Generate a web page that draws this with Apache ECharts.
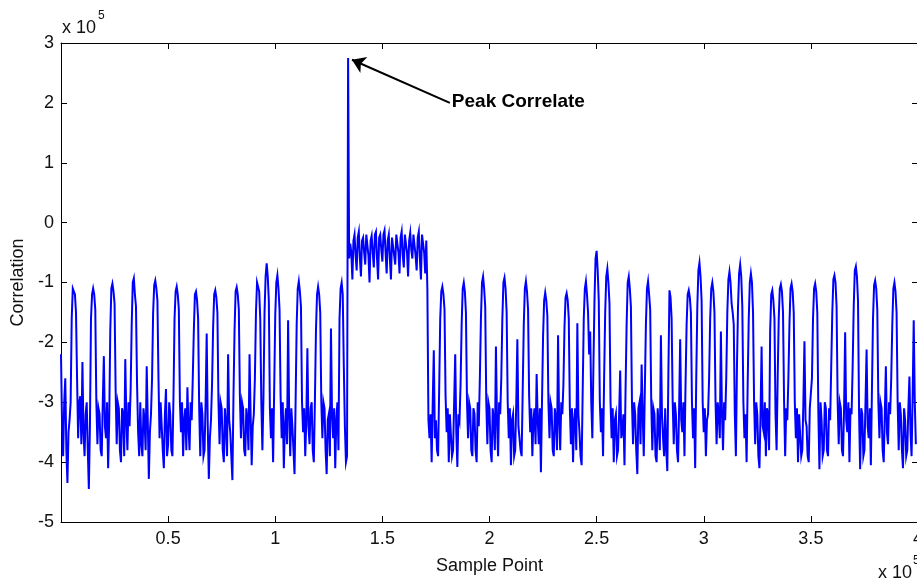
<!DOCTYPE html>
<html>
<head>
<meta charset="utf-8">
<script src="https://cdn.jsdelivr.net/npm/echarts@6/dist/echarts.min.js"></script>
<style>
html, body { margin: 0; padding: 0; background: #fff; }
#corrChart { width: 917px; height: 579px; }
</style>
</head>
<body>
<div id="corrChart"></div>
<script>
// sample spacing of the stored values, in units of 10^5 samples
const sampleStep = 0.01
// correlation values (x 10^5) at each step
const correlation = [
  -2.2, -3.9, -2.6, -4.35, -3.3, -1.6, -1.07, -1.5, -3.6, -2.9,
  -2.33, -3.9, -3.0, -4.45, -1.6, -1.1, -1.45, -3.7, -3.2, -3.9,
  -2.23, -3.6, -4.1, -1.8, -1.02, -1.35, -3.7, -3.1, -4.0, -3.2,
  -2.28, -3.8, -3.4, -1.7, -0.93, -1.4, -3.5, -3.0, -3.9, -3.3,
  -2.4, -4.28, -3.2, -1.5, -0.97, -1.3, -3.6, -3.0, -4.1, -2.78,
  -3.7, -3.2, -3.9, -1.6, -1.07, -1.45, -3.5, -3.9, -3.1, -2.75,
  -3.8, -3.3, -1.8, -1.15, -1.6, -3.9, -3.2, -3.8, -1.85, -4.28,
  -3.3, -1.75, -1.13, -1.5, -3.7, -3.1, -4.0, -3.4, -2.2, -3.5,
  -4.3, -1.8, -1.08, -1.45, -3.6, -3.1, -3.9, -3.3, -2.2, -4.05,
  -3.2, -1.5, -0.98, -1.6, -3.8, -1.5, -0.68, -1.3, -3.6, -4.0,
  -1.55, -0.88, -1.45, -3.6, -4.1, -3.1, -1.63, -3.9, -3.4, -4.2,
  -1.7, -0.98, -1.4, -3.5, -3.9, -2.1, -3.7, -3.0, -4.0, -1.8,
  -1.07, -1.5, -3.6, -3.1, -4.2, -3.2, -1.77, -3.6, -4.1, -3.0,
  -1.6, -1.0, -2.4, -4.0, 2.75,
  // raised block after the peak
  -0.35, -0.95, -0.2, -0.8, -0.15, -0.9, -0.25, -0.7, -0.18, -1.0,
  -0.22, -0.75, -0.15, -0.95, -0.2, -0.65, -0.13, -0.85, -0.2, -0.95,
  -0.25, -0.7, -0.18, -0.85, -0.15, -0.75, -0.22, -0.9, -0.17, -0.6,
  -0.2, -0.8, -0.15, -0.95, -0.2, -0.85, -1.1,
  // back to the noise floor
  -3.6, -4.0, -2.13, -3.3, -3.9, -1.6, -1.07, -1.45, -3.5, -4.0,
  -3.2, -3.8, -2.2, -4.08, -3.3, -1.7, -1.0, -1.5, -3.6, -3.1,
  -3.9, -3.2, -4.0, -3.4, -1.6, -0.9, -1.4, -3.7, -3.1, -4.0,
  -3.3, -2.07, -3.9, -3.2, -1.6, -0.92, -1.5, -3.6, -4.05, -3.2,
  -3.8, -1.95, -3.4, -3.9, -1.7, -0.98, -1.45, -3.5, -3.9, -3.1,
  -2.53, -3.7, -4.17, -1.9, -1.17, -1.55, -3.6, -3.1, -3.9, -3.3,
  -1.88, -3.8, -3.2, -1.75, -1.18, -1.6, -3.7, -4.0, -3.1, -1.68,
  -3.5, -4.05, -1.6, -0.98, -1.5, -1.82, -3.6, -1.3, -0.47, -1.3,
  -3.5, -3.9, -1.5, -0.77, -1.35, -3.6, -4.0, -3.2, -3.8, -2.47,
  -3.5, -4.05, -1.7, -0.9, -1.4, -3.7, -3.2, -4.2, -3.0, -2.37,
  -3.9, -1.7, -0.98, -1.45, -3.8, -3.2, -4.0, -3.4, -1.88, -3.6,
  -3.1, -4.15, -1.13, -1.6, -3.7, -3.2, -4.0, -1.95, -3.5, -3.9,
  -1.7, -1.13, -1.5, -3.6, -4.1, -1.4, -0.67, -1.3, -3.5, -3.9,
  -3.2, -1.6, -1.0, -1.5, -3.7, -3.2, -1.82, -3.8, -3.3, -1.5,
  -0.82, -1.35, -1.7, -3.9, -1.4, -0.7, -1.4, -3.6, -4.0, -1.6,
  -0.85, -1.5, -3.7, -3.2, -4.1, -2.07, -3.5, -3.9, -3.2, -1.8,
  -1.13, -1.6, -3.8, -1.6, -1.03, -1.5, -3.9, -3.3, -1.7, -1.02,
  -1.5, -3.6, -4.0, -3.2, -3.8, -1.98, -3.4, -4.0, -3.1, -1.6,
  -1.02, -1.5, -4.12, -3.3, -3.8, -3.1, -3.9, -3.3, -1.5, -0.88,
  -1.4, -3.7, -3.1, -3.9, -1.83, -3.5, -4.0, -3.2, -1.4, -0.73,
  -1.3, -4.12, -3.2, -3.8, -2.12, -3.6, -4.05, -1.6, -0.97, -1.45,
  -3.6, -3.1, -4.0, -2.4, -3.7, -3.2, -1.7, -1.0, -1.5, -3.8,
  -3.2, -4.1, -3.3, -3.8, -2.57, -3.9, -1.63, -3.7
]
// values half a step later (the fast wiggle that fills the band)
const correlationMid = [
  -3.4, -3.0, -3.8, -3.5, -3.0, -1.1, -1.2, -2.6, -3.0, -3.7,
  -3.5, -3.2, -3.8, -3.4, -1.2, -1.2, -3.0, -3.1, -3.8, -3.0,
  -3.4, -3.0, -3.3, -1.1, -1.15, -2.8, -3.0, -3.8, -3.1, -3.9,
  -3.3, -3.0, -2.8, -1.0, -1.2, -2.7, -3.9, -3.7, -3.1, -3.8,
  -3.3, -3.5, -2.6, -1.05, -1.1, -2.6, -3.0, -3.8, -3.2, -3.9,
  -3.0, -3.8, -2.9, -1.15, -1.2, -3.0, -3.0, -3.3, -3.8, -3.4,
  -3.0, -2.6, -1.2, -1.3, -3.1, -3.0, -3.9, -3.0, -3.4, -3.6,
  -2.7, -1.2, -1.25, -3.0, -3.0, -3.8, -3.1, -3.9, -3.3, -3.9,
  -2.9, -1.15, -1.2, -2.9, -3.0, -3.8, -3.1, -3.8, -3.2, -3.4,
  -2.6, -1.0, -1.15, -3.0, -2.9, -0.9, -0.9, -3.1, -3.1, -2.8,
  -1.0, -1.1, -2.9, -3.0, -3.4, -3.7, -3.2, -3.1, -3.8, -3.0,
  -1.1, -1.15, -3.0, -3.1, -3.3, -3.4, -3.1, -3.8, -3.0, -1.2,
  -1.2, -3.0, -3.0, -3.8, -3.3, -3.9, -3.2, -3.1, -3.3, -3.8,
  -1.1, -1.2, -3.4, -3.9, -0.6, -0.5, -0.3, -0.55, -0.25, -0.6,
  -0.3, -0.5, -0.2, -0.55, -0.3, -0.5, -0.2, -0.6, -0.25, -0.45,
  -0.2, -0.5, -0.3, -0.6, -0.25, -0.55, -0.2, -0.5, -0.25, -0.55,
  -0.2, -0.5, -0.3, -0.45, -0.2, -0.55, -0.25, -0.6, -0.2, -0.5,
  -0.3, -3.3, -3.2, -3.0, -3.6, -3.8, -2.8, -1.15, -1.2, -2.9,
  -3.1, -3.2, -3.9, -3.0, -3.5, -3.2, -2.7, -1.1, -1.15, -3.0,
  -3.0, -3.8, -3.1, -3.8, -3.0, -2.6, -1.0, -1.1, -3.0, -3.0,
  -3.8, -3.1, -3.8, -3.3, -3.0, -2.6, -1.0, -1.1, -3.0, -3.1,
  -3.3, -3.9, -3.0, -3.4, -3.8, -2.8, -1.1, -1.15, -2.9, -3.1,
  -3.3, -3.7, -3.3, -3.1, -3.0, -1.3, -1.3, -3.0, -3.0, -3.8,
  -3.1, -3.8, -3.3, -3.0, -2.7, -1.25, -1.3, -3.1, -3.1, -3.3,
  -3.8, -3.2, -3.9, -2.8, -1.1, -1.2, -2.2, -3.0, -2.4, -0.6,
  -0.8, -3.0, -3.1, -2.6, -0.9, -1.0, -3.0, -3.1, -3.3, -3.9,
  -3.2, -3.6, -3.2, -2.8, -1.0, -1.1, -3.0, -3.0, -3.8, -3.1,
  -3.7, -3.2, -2.8, -1.1, -1.2, -3.0, -3.1, -3.9, -3.1, -3.8,
  -3.2, -3.9, -3.8, -2.5, -1.25, -3.0, -3.0, -3.8, -3.1, -3.3,
  -3.0, -2.7, -1.2, -1.25, -3.0, -3.1, -2.6, -0.8, -0.9, -3.0,
  -3.1, -3.3, -2.6, -1.1, -1.15, -3.0, -3.0, -3.6, -3.2, -3.0,
  -2.6, -0.95, -1.0, -1.5, -3.2, -2.4, -0.85, -0.9, -3.0, -3.2,
  -2.7, -1.0, -1.0, -3.0, -3.0, -3.9, -3.2, -3.4, -3.0, -3.1,
  -3.8, -1.2, -1.3, -3.2, -2.6, -1.1, -1.15, -3.0, -3.1, -2.6,
  -1.1, -1.15, -3.0, -3.1, -3.2, -3.9, -3.0, -3.3, -3.9, -3.1,
  -2.6, -1.1, -1.15, -3.2, -3.0, -3.9, -3.0, -3.8, -3.1, -2.4,
  -0.95, -1.0, -3.0, -3.0, -3.8, -3.1, -3.3, -3.0, -3.1, -2.4,
  -0.8, -0.9, -3.2, -3.1, -3.9, -3.0, -3.4, -3.1, -2.8, -1.05,
  -1.1, -3.0, -3.0, -3.8, -3.2, -3.5, -3.0, -2.6, -1.1, -1.15,
  -3.0, -3.0, -3.8, -3.1, -3.9, -3.1, -3.5, -2.9, -3.0
]
const xTicks = [0.5, 1, 1.5, 2, 2.5, 3, 3.5, 4]
const yTicks = [-5, -4, -3, -2, -1, 0, 1, 2, 3]
const peakText = 'Peak Correlate'
const peakArrow = { from: [1.815, 2.0], to: [1.358, 2.72] }

const font = 'Liberation Sans, Arial, sans-serif'
// interleave the step values with the half-step values
const seriesData = []
correlation.forEach((v, i) => {
  seriesData.push([i * sampleStep, v])
  if (i < correlationMid.length) seriesData.push([(i + 0.5) * sampleStep, correlationMid[i]])
})

const boxAxis = {
  axisLine: { show: true, onZero: false, lineStyle: { color: '#000', width: 1 } },
  axisTick: { show: true, inside: true, length: 6, lineStyle: { color: '#000' } },
  splitLine: { show: false },
}

const option = {
  backgroundColor: '#fff',
  animation: false,
  grid: { left: 61, right: -1, top: 43, bottom: 57, outerBoundsMode: 'none', containLabel: false },
  xAxis: [
    {
      type: 'value', min: 0, max: xTicks[xTicks.length - 1], interval: 0.5,
      position: 'bottom',
      name: 'Sample Point', nameLocation: 'middle', nameGap: 35,
      nameTextStyle: { fontFamily: font, fontSize: 18, color: '#111' },
      ...boxAxis,
      axisLabel: {
        showMinLabel: false, margin: 8,
        fontFamily: font, fontSize: 18, color: '#111',
        formatter: v => (xTicks.includes(v) ? String(v) : ''),
      },
    },
    {
      type: 'value', min: 0, max: xTicks[xTicks.length - 1], interval: 0.5,
      position: 'top', ...boxAxis, axisLabel: { show: false },
    },
  ],
  yAxis: [
    {
      type: 'value', min: yTicks[0], max: yTicks[yTicks.length - 1], interval: 1,
      position: 'left',
      name: 'Correlation', nameLocation: 'middle', nameGap: 34,
      nameTextStyle: { fontFamily: font, fontSize: 18, color: '#111' },
      ...boxAxis,
      axisLabel: { margin: 7, fontFamily: font, fontSize: 18, color: '#111' },
    },
    {
      type: 'value', min: yTicks[0], max: yTicks[yTicks.length - 1], interval: 1,
      position: 'right', ...boxAxis, axisLabel: { show: false },
    },
  ],
  series: [
    {
      type: 'line',
      data: seriesData,
      showSymbol: false,
      lineStyle: { color: '#0000ff', width: 2, join: 'miter' },
      markLine: {
        silent: true,
        animation: false,
        label: { show: false },
        lineStyle: { color: '#000', width: 2, type: 'solid' },
        data: [[
          { coord: peakArrow.from, symbol: 'none' },
          { coord: peakArrow.to, symbol: 'arrow', symbolSize: 13 },
        ]],
      },
    },
  ],
}

const chart = echarts.init(document.getElementById('corrChart'))
chart.setOption(option)

const textPos = chart.convertToPixel({ gridIndex: 0 }, peakArrow.from)
chart.setOption({
  graphic: [
    {
      type: 'text', left: textPos[0] + 2, top: textPos[1] - 11,
      style: { text: peakText, fontFamily: font, fontSize: 19, fontWeight: 'bold', fill: '#000' },
    },
    {
      type: 'text', left: 62, top: 19,
      style: { text: 'x 10', fontFamily: font, fontSize: 18, fill: '#111' },
    },
    {
      type: 'text', left: 98, top: 10,
      style: { text: '5', fontFamily: font, fontSize: 12, fill: '#111' },
    },
    {
      type: 'text', left: 878, top: 564,
      style: { text: 'x 10', fontFamily: font, fontSize: 18, fill: '#111' },
    },
    {
      type: 'text', left: 913, top: 555,
      style: { text: '5', fontFamily: font, fontSize: 12, fill: '#111' },
    },
  ],
})

window.addEventListener('resize', function () {
  chart.resize()
})
</script>
</body>
</html>
